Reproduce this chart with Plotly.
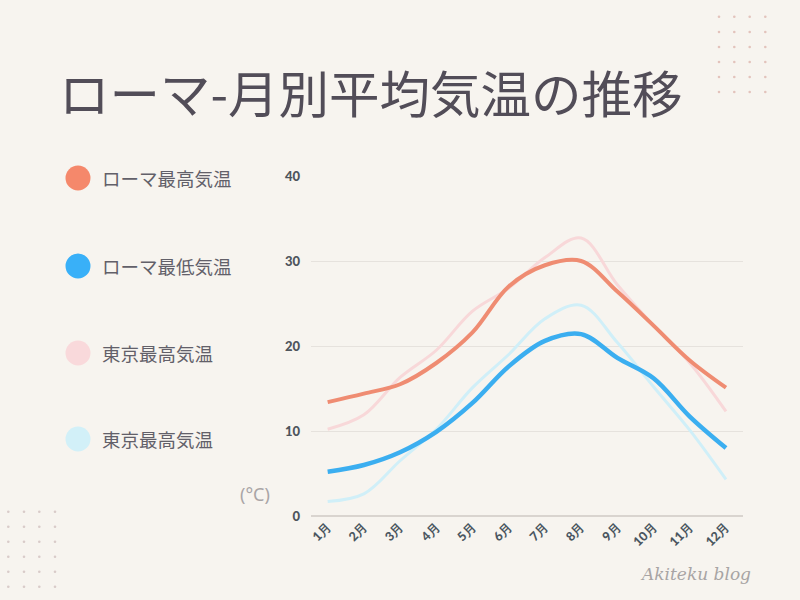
import plotly.graph_objects as go

months = ["1月", "2月", "3月", "4月", "5月", "6月", "7月", "8月", "9月", "10月", "11月", "12月"]
rome_max = [13.4, 14.4, 15.5, 18.0, 21.6, 27.0, 29.5, 30.0, 26.4, 22.4, 18.3, 15.1]
rome_min = [5.2, 6.0, 7.5, 9.9, 13.3, 17.6, 20.6, 21.4, 18.6, 16.2, 11.7, 8.0]
tokyo_max = [10.2, 11.9, 16.3, 19.5, 24.1, 26.8, 30.4, 32.7, 27.2, 22.4, 18.0, 12.3]
tokyo_min = [1.7, 2.6, 6.5, 10.2, 15.1, 19.0, 23.2, 24.8, 20.4, 15.2, 10.1, 4.3]
series_names = ["ローマ最高気温", "ローマ最低気温", "東京最高気温", "東京最高気温"]
y_ticks = [0, 10, 20, 30, 40]

BG = "#F7F4EF"
C_RMAX = "#EF8C72"
C_RMIN = "#3BAEF0"
C_TMAX = "#F8D8D9"
C_TMIN = "#D0EFF8"

# plot area in pixels
L, R, T, B = 311, 743, 176, 516
W, H = R - L, B - T

def px(x):
    return (x - L) / W

def py(y):
    return (B - y) / H

fig = go.Figure()
for vals, col, w in [(tokyo_max, C_TMAX, 3), (tokyo_min, C_TMIN, 3),
                     (rome_max, C_RMAX, 4), (rome_min, C_RMIN, 4.5)]:
    fig.add_trace(go.Scatter(x=months, y=vals, mode="lines",
                             line=dict(color=col, width=w, shape="spline", smoothing=1.0),
                             hoverinfo="skip", showlegend=False))

shapes = []
annotations = []

# legend
legend_cols = ["#F5886B", "#39B0F8", "#F9D9DB", "#D2F0F8"]
legend_y = [178, 266, 353, 439]
for name, col, yy in zip(series_names, legend_cols, legend_y):
    r = 12.5
    shapes.append(dict(type="circle", xref="paper", yref="paper",
                       x0=px(78 - r), x1=px(78 + r), y0=py(yy + r), y1=py(yy - r),
                       fillcolor=col, line=dict(width=0)))
    annotations.append(dict(text=name, xref="paper", yref="paper", x=px(100), y=py(yy),
                            xanchor="left", yanchor="middle", showarrow=False,
                            font=dict(family="Noto Sans CJK JP", size=18.5, color="#626069")))

# decorative dots
for cx in [719, 734.3, 749.7, 765.3]:
    for cy in [16.7, 32, 47, 62, 77, 92]:
        shapes.append(dict(type="circle", xref="paper", yref="paper",
                           x0=px(cx - 1.3), x1=px(cx + 1.3), y0=py(cy + 1.3), y1=py(cy - 1.3),
                           fillcolor="#E3C3BC", line=dict(width=0)))
for cx in [8.3, 24, 39.3, 55]:
    for cy in [511.7, 526.7, 541.7, 556.7, 571.7, 586.7]:
        shapes.append(dict(type="circle", xref="paper", yref="paper",
                           x0=px(cx - 1.3), x1=px(cx + 1.3), y0=py(cy + 1.3), y1=py(cy - 1.3),
                           fillcolor="#D9CBC9", line=dict(width=0)))

# title
annotations.append(dict(text="ローマ-月別平均気温の推移", xref="paper", yref="paper",
                        x=px(57), y=py(91), xanchor="left", yanchor="middle", showarrow=False,
                        font=dict(family="Noto Sans CJK JP", size=50.5, color="#524D58")))
# unit
annotations.append(dict(text="(°C)", xref="paper", yref="paper", x=px(255), y=py(494),
                        xanchor="center", yanchor="middle", showarrow=False,
                        font=dict(family="Noto Sans", size=18, color="#A9A5A6")))
# watermark
annotations.append(dict(text="Akiteku blog", xref="paper", yref="paper", x=px(753), y=py(574),
                        xanchor="right", yanchor="middle", showarrow=False,
                        font=dict(family="DejaVu Serif", size=17, color="#A8A4A4", style="italic")))

fig.update_layout(
    width=800, height=600,
    margin=dict(l=L, r=800 - R, t=T, b=600 - B, pad=0),
    paper_bgcolor=BG, plot_bgcolor=BG,
    shapes=shapes, annotations=annotations,
    showlegend=False,
    xaxis=dict(type="category", range=[-0.46, 11.47], showgrid=False, zeroline=False,
               showline=False, tickangle=-45, ticks="",
               tickfont=dict(family="Lato", size=12.5, color="#4A5660", weight=900)),
    yaxis=dict(range=[0, 40], tickvals=y_ticks, showgrid=True, gridcolor="#E6E2DD", gridwidth=1.2,
               zeroline=True, zerolinecolor="#D9D4CF", zerolinewidth=2, showline=False, ticks="",
               ticklabelstandoff=10,
               tickfont=dict(family="Lato", size=13, color="#4E545C", weight=900)),
)

fig.write_html("out.html", config={"displayModeBar": False},
               post_script="document.body.style.margin='0';document.body.style.background='#F7F4EF';")
